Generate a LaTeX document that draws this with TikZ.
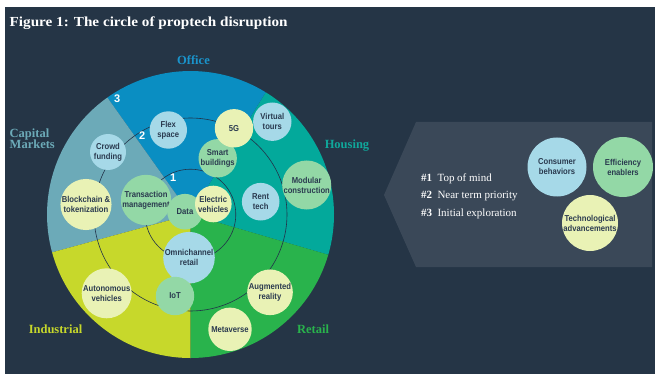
\documentclass[tikz,border=0pt]{standalone}
\usepackage{fontspec}
\setmainfont{Liberation Serif}
\newfontfamily\titlefont{Liberation Serif}[FakeStretch=1.1]
\newfontfamily\bubblefont{Liberation Sans}[FakeStretch=0.89]
\newfontfamily\numfont{Liberation Sans}

\definecolor{bg}{HTML}{253546}
\definecolor{panel}{HTML}{3A4858}
\definecolor{office}{HTML}{0A8EC2}
\definecolor{housing}{HTML}{03A99B}
\definecolor{retail}{HTML}{29B34C}
\definecolor{industrial}{HTML}{C7D82B}
\definecolor{capital}{HTML}{6CAAB8}
\definecolor{officelbl}{HTML}{1A94CC}
\definecolor{housinglbl}{HTML}{10A89B}
\definecolor{bblue}{HTML}{A6D9E8}
\definecolor{bgreen}{HTML}{93D8A6}
\definecolor{byellow}{HTML}{E9F2B5}
\definecolor{ink}{HTML}{2A3A4F}
\definecolor{ringline}{HTML}{22334A}

\begin{document}
\begin{tikzpicture}[x=1pt,y=-1pt,
  bub/.style={circle, inner sep=0pt, align=center, text=ink,
    font=\bubblefont\bfseries\fontsize{8.6}{10}\selectfont},
  blue bub/.style={bub, fill=bblue},
  green bub/.style={bub, fill=bgreen},
  yellow bub/.style={bub, fill=byellow},
  seglabel/.style={font=\bfseries\fontsize{12.5}{13}\selectfont, anchor=base},
  ringnum/.style={text=white, font=\numfont\bfseries\fontsize{11}{11}\selectfont},
  ring/.style={draw=ringline, line width=0.6pt},
  legendtext/.style={text=white, anchor=base west, font=\fontsize{11}{12}\selectfont}
]
\useasboundingbox (0,0) rectangle (655,374);
\fill[white] (0,0) rectangle (655,374);
\fill[bg] (5,7) rectangle (655,374);

% title
\node[anchor=base west, text=white, inner sep=0pt,
  font=\titlefont\bfseries\fontsize{13.8}{16}\selectfont] (title) at (9.5,26.5)
  {Figure 1: The circle of proptech disruption};

% the five sectors and the three priority rings
\coordinate (C) at (190.5,214.5);
\begin{scope}[shift={(C)}, y=1pt]
  \fill[housing] (0,0) -- (-16.3:143.5) arc[start angle=-16.3, end angle=58.4, radius=143.5] -- cycle;
  \fill[office] (0,0) -- (58.4:143.5) arc[start angle=58.4, end angle=125.4, radius=143.5] -- cycle;
  \fill[capital] (0,0) -- (125.4:143.5) arc[start angle=125.4, end angle=195.3, radius=143.5] -- cycle;
  \fill[industrial] (0,0) -- (195.3:143.5) arc[start angle=195.3, end angle=270, radius=143.5] -- cycle;
  \fill[retail] (0,0) -- (270:143.5) arc[start angle=270, end angle=343.7, radius=143.5] -- cycle;
  \draw[ring] (0,0) circle[radius=45.3];
  \draw[ring] (0,0) circle[radius=96.5];
\end{scope}

% ring numbers
\node[ringnum] (n1) at (173.3,177.3) {1};
\node[ringnum] (n2) at (142.3,136) {2};
\node[ringnum] (n3) at (117.3,98.3) {3};

% sector labels
\node[seglabel, text=officelbl] (lOffice) at (193.5,65) {Office};
\node[seglabel, text=housinglbl] (lHousing) at (347,149) {Housing};
\node[seglabel, text=retail] (lRetail) at (313,333) {Retail};
\node[seglabel, text=industrial] (lIndustrial) at (55.5,333) {Industrial};
\node[seglabel, text=capital, anchor=west, align=left, inner sep=0pt,
  font=\bfseries\fontsize{12.5}{11.5}\selectfont] (lCapital) at (9.5,138.5) {Capital\\Markets};

% technology bubbles
\node[blue bub, minimum size=37.4pt] (flex) at (168.3,130) {Flex\\space};
\node[blue bub, minimum size=36pt] (crowd) at (108,152) {Crowd\\funding};
\node[yellow bub, minimum size=50pt] (block) at (86,204.5) {Blockchain \&\\tokenization};
\node[green bub, minimum size=50pt] (trans) at (146,200) {Transaction\\management};
\node[green bub, minimum size=35.6pt] (data) at (185,211.7) {Data};
\node[yellow bub, minimum size=36.6pt] (ev) at (213.3,204) {Electric\\vehicles};
\node[blue bub, minimum size=51.6pt] (omni) at (189,257.7) {Omnichannel\\retail};
\node[green bub, minimum size=38.4pt] (iot) at (175,296) {IoT};
\node[green bub, minimum size=37.4pt] (smart) at (217.7,158.3) {Smart\\buildings};
\node[yellow bub, minimum size=38.4pt] (fiveg) at (234,128.3) {5G};
\node[blue bub, minimum size=38.4pt] (virtual) at (272.3,121.7) {Virtual\\tours};
\node[blue bub, minimum size=37.6pt] (rent) at (260.7,201.7) {Rent\\tech};
\node[green bub, minimum size=46pt] (modular) at (306.7,185) {Modular\\construction};
\node[yellow bub, minimum size=50pt] (auto) at (106.7,293.3) {Autonomous\\vehicles};
\node[yellow bub, minimum size=45.4pt] (ar) at (270,292.3) {Augmented\\reality};
\node[yellow bub, minimum size=43.4pt] (meta) at (230,329.3) {Metaverse};

% legend panel
\fill[panel] (416,122) -- (652,122) -- (652,267) -- (416,267) -- (384,195) -- cycle;
\node[legendtext] (k1) at (417.5,181) {\textbf{\#1}\enspace Top of mind};
\node[legendtext] (k2) at (417.5,198.5) {\textbf{\#2}\enspace Near term priority};
\node[legendtext] (k3) at (417.5,216) {\textbf{\#3}\enspace Initial exploration};
\node[blue bub, minimum size=59pt] (consumer) at (557,167) {Consumer\\behaviors};
\node[green bub, minimum size=60pt] (effic) at (623,167) {Efficiency\\enablers};
\node[yellow bub, minimum size=56pt] (techadv) at (590,223) {Technological\\advancements};
\end{tikzpicture}
\end{document}
